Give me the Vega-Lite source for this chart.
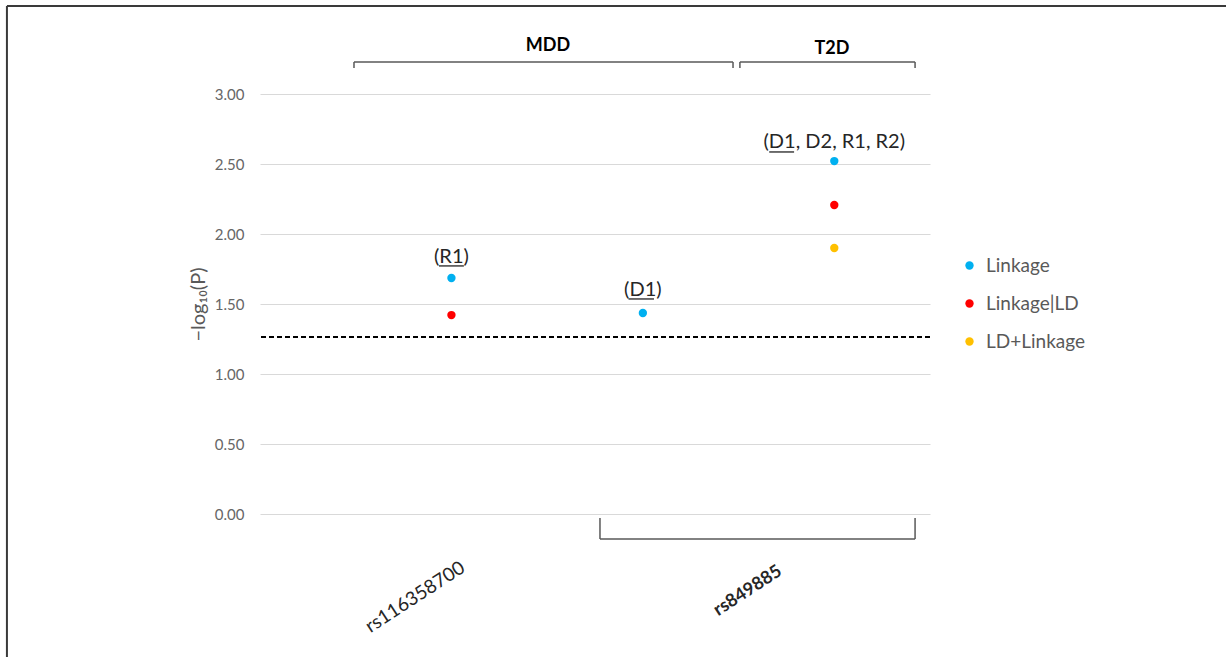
{
  "$schema": "https://vega.github.io/schema/vega-lite/v6.json",
  "width": 670,
  "height": 420,
  "autosize": {"type": "none"},
  "padding": {"left": 260, "top": 94, "right": 296, "bottom": 143},
  "background": "white",
  "config": {
    "view": {"stroke": null},
    "font": "Lato",
    "axis": {"labelFont": "Lato", "titleFont": "Lato"},
    "legend": {"labelFont": "Lato"}
  },
  "datasets": {
    "points": [
      {"pos": 1, "value": 1.686, "series": "Linkage"},
      {"pos": 1, "value": 1.421, "series": "Linkage|LD"},
      {"pos": 2, "value": 1.436, "series": "Linkage"},
      {"pos": 3, "value": 2.521, "series": "Linkage"},
      {"pos": 3, "value": 2.207, "series": "Linkage|LD"},
      {"pos": 3, "value": 1.9, "series": "LD+Linkage"}
    ],
    "brackets": [
      {"x": 0.491, "x2": 2.471, "y": 3.229, "y2": 3.229},
      {"x": 0.491, "x2": 0.491, "y": 3.229, "y2": 3.186},
      {"x": 2.471, "x2": 2.471, "y": 3.229, "y2": 3.186},
      {"x": 2.507, "x2": 3.422, "y": 3.229, "y2": 3.229},
      {"x": 2.507, "x2": 2.507, "y": 3.229, "y2": 3.186},
      {"x": 3.422, "x2": 3.422, "y": 3.229, "y2": 3.186},
      {"x": 1.776, "x2": 1.776, "y": -0.029, "y2": -0.179},
      {"x": 3.422, "x2": 3.422, "y": -0.029, "y2": -0.179},
      {"x": 1.776, "x2": 3.422, "y": -0.179, "y2": -0.179}
    ],
    "frame": [
      {"x": -1.322, "x2": 5.05, "y": 3.629, "y2": 3.629},
      {"x": -1.322, "x2": -1.322, "y": 3.629, "y2": -1.03}
    ],
    "underlines": [
      {"x": 0.935, "x2": 1.065, "y": 1.772},
      {"x": 1.925, "x2": 2.058, "y": 1.536},
      {"x": 2.66, "x2": 2.79, "y": 2.586}
    ],
    "annotations": [
      {"x": 1.0, "y": 1.836, "label": "(R1)"},
      {"x": 2.0, "y": 1.6, "label": "(D1)"},
      {"x": 3.0, "y": 2.654, "label": "(D1, D2, R1, R2)"}
    ],
    "groups": [
      {"x": 1.504, "y": 3.343, "label": "MDD"},
      {"x": 2.988, "y": 3.321, "label": "T2D"}
    ],
    "snp1": [{"x": 0.81, "y": -0.593, "label": "rs116358700"}],
    "snp2": [{"x": 2.549, "y": -0.55, "label": "rs849885"}],
    "threshold": [{"y": 1.265}]
  },
  "layer": [
    {
      "data": {"name": "frame"},
      "mark": {"type": "rule", "color": "#3a3a3a", "strokeWidth": 2},
      "encoding": {
        "x": {"field": "x", "type": "quantitative", "scale": {"domain": [0, 3.5]}, "axis": null},
        "x2": {"field": "x2"},
        "y": {"field": "y", "type": "quantitative", "scale": {"domain": [0, 3]}},
        "y2": {"field": "y2"}
      }
    },
    {
      "data": {"name": "points"},
      "mark": {"type": "point", "filled": true, "size": 70, "opacity": 1},
      "encoding": {
        "x": {"field": "pos", "type": "quantitative", "scale": {"domain": [0, 3.5]}, "axis": null},
        "y": {
          "field": "value", "type": "quantitative",
          "scale": {"domain": [0, 3]},
          "axis": {
            "values": [0, 0.5, 1, 1.5, 2, 2.5, 3],
            "format": ".2f",
            "domain": false,
            "ticks": false,
            "grid": true,
            "gridColor": "#d9d9d9",
            "gridWidth": 1,
            "labelColor": "#666666",
            "labelFontSize": 15,
            "labelPadding": 16,
            "title": "−log₁₀(P)",
            "titleColor": "#595959",
            "titleFontSize": 20,
            "titleFontWeight": "normal",
            "titlePadding": 6
          }
        },
        "color": {
          "field": "series", "type": "nominal",
          "scale": {"domain": ["Linkage", "Linkage|LD", "LD+Linkage"], "range": ["#00B0F0", "#FF0000", "#FFC000"]},
          "legend": {
            "title": null,
            "orient": "none",
            "legendX": 700,
            "legendY": 162,
            "padding": 0,
            "symbolType": "circle",
            "symbolSize": 70,
            "labelFontSize": 19,
            "labelColor": "#595959",
            "labelOffset": 7,
            "rowPadding": 18
          }
        }
      }
    },
    {
      "data": {"name": "threshold"},
      "mark": {"type": "rule", "color": "black", "strokeWidth": 2, "strokeDash": [5, 3]},
      "encoding": {
        "y": {"field": "y", "type": "quantitative"}
      }
    },
    {
      "data": {"name": "brackets"},
      "mark": {"type": "rule", "color": "#595959", "strokeWidth": 1.5},
      "encoding": {
        "x": {"field": "x", "type": "quantitative"},
        "x2": {"field": "x2"},
        "y": {"field": "y", "type": "quantitative"},
        "y2": {"field": "y2"}
      }
    },
    {
      "data": {"name": "underlines"},
      "mark": {"type": "rule", "color": "#404040", "strokeWidth": 1.5},
      "encoding": {
        "x": {"field": "x", "type": "quantitative"},
        "x2": {"field": "x2"},
        "y": {"field": "y", "type": "quantitative"}
      }
    },
    {
      "data": {"name": "annotations"},
      "mark": {"type": "text", "fontSize": 20, "color": "#262626", "align": "center", "baseline": "middle"},
      "encoding": {
        "x": {"field": "x", "type": "quantitative"},
        "y": {"field": "y", "type": "quantitative"},
        "text": {"field": "label"}
      }
    },
    {
      "data": {"name": "groups"},
      "mark": {"type": "text", "fontSize": 18, "fontWeight": "bold", "color": "black", "align": "center", "baseline": "middle"},
      "encoding": {
        "x": {"field": "x", "type": "quantitative"},
        "y": {"field": "y", "type": "quantitative"},
        "text": {"field": "label"}
      }
    },
    {
      "data": {"name": "snp1"},
      "mark": {"type": "text", "fontSize": 19, "color": "#262626", "align": "center", "baseline": "middle", "angle": -33},
      "encoding": {
        "x": {"field": "x", "type": "quantitative"},
        "y": {"field": "y", "type": "quantitative"},
        "text": {"field": "label"}
      }
    },
    {
      "data": {"name": "snp2"},
      "mark": {"type": "text", "fontSize": 18, "fontWeight": "bold", "color": "#262626", "align": "center", "baseline": "middle", "angle": -33},
      "encoding": {
        "x": {"field": "x", "type": "quantitative"},
        "y": {"field": "y", "type": "quantitative"},
        "text": {"field": "label"}
      }
    }
  ]
}
